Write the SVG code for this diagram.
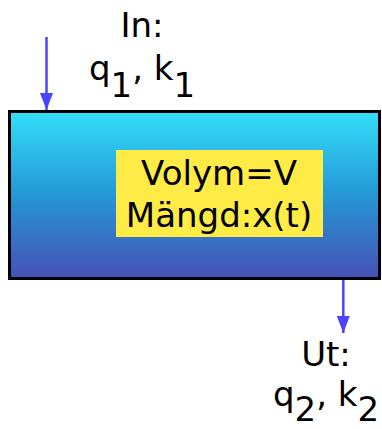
<svg xmlns="http://www.w3.org/2000/svg" width="382" height="429" viewBox="0 0 382 429">
<defs>
<style>
.t{font-family:"DejaVu Sans","Liberation Sans",sans-serif;font-size:34px;fill:#000;text-anchor:middle}
.c{stroke:#4b44ff;stroke-width:2.5;fill:none}
</style>
<linearGradient id="g" x1="0" y1="0" x2="0" y2="1">
<stop offset="0" stop-color="#33defa"/>
<stop offset="0.5" stop-color="#2497d4"/>
<stop offset="1" stop-color="#4751b6"/>
</linearGradient>
<marker id="ah" markerUnits="userSpaceOnUse" markerWidth="17" markerHeight="13" refX="17" refY="6.5" orient="auto">
<path d="M0,0 L17,6.5 L0,13 z" fill="#4b44ff"/>
</marker>
</defs>
<rect width="382" height="429" fill="#fff"/>
<g id="tank">
<rect x="9.5" y="111.5" width="370" height="167" fill="url(#g)" stroke="#000" stroke-width="3"/>
</g>
<g id="label">
<rect x="116" y="150" width="207" height="87" fill="#ffeb45"/>
<text class="t" x="219" y="185">Volym=V</text>
<text class="t" x="219" y="227">Mängd:x(t)</text>
</g>
<g id="in">
<text class="t" x="142" y="37">In:</text>
<text class="t" x="142" y="80">q<tspan dy="17">1</tspan><tspan dy="-17">, k</tspan><tspan dy="17">1</tspan></text>
</g>
<g id="out">
<text class="t" x="326" y="366">Ut:</text>
<text class="t" x="326" y="406">q<tspan dy="15">2</tspan><tspan dy="-15">, k</tspan><tspan dy="15">2</tspan></text>
</g>
<g id="connectors">
<line class="c" x1="46.5" y1="37" x2="46.5" y2="110" marker-end="url(#ah)"/>
<line class="c" x1="343.3" y1="280" x2="343.3" y2="333" marker-end="url(#ah)"/>
</g>
</svg>
